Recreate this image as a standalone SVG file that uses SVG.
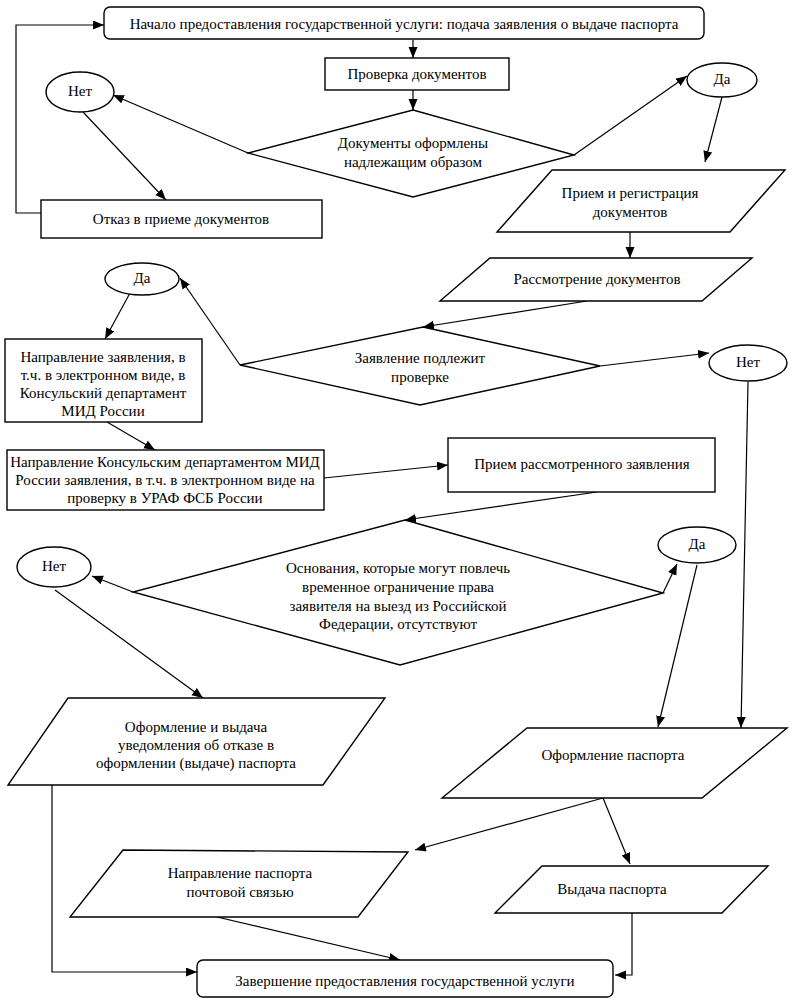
<svg xmlns="http://www.w3.org/2000/svg" width="803" height="1002" viewBox="0 0 803 1002" font-family="'Liberation Serif', 'DejaVu Serif', serif">
<style>
.s{fill:#fff;stroke:#000;stroke-width:1.4}
.c{fill:none;stroke:#000;stroke-width:1.2;marker-end:url(#a)}
text{font-family:'Liberation Serif','DejaVu Serif',serif;font-size:15px;fill:#000;text-anchor:middle;dominant-baseline:central}
</style>
<defs>
<marker id="a" markerUnits="userSpaceOnUse" markerWidth="12" markerHeight="10" refX="11" refY="4.5" orient="auto">
<path d="M0,0 L11,4.5 L0,9 z" fill="#000"/>
</marker>
</defs>
<rect width="803" height="1002" fill="#fff"/>
<g id="connectors">
<path class="c" d="M413,40 L413,58"/>
<path class="c" d="M413,90 L413,110"/>
<path class="c" d="M248,153 L113,95"/>
<path class="c" d="M83,112 L166,200"/>
<path class="c" d="M41,213 L16,213 L16,25 L104,25"/>
<path class="c" d="M574,155 L687,76"/>
<path class="c" d="M722,97 L705,162"/>
<path class="c" d="M630,232 L630,258"/>
<path class="c" d="M587,301 L423,327"/>
<path class="c" d="M240,365 L180,278"/>
<path class="c" d="M130,293 L105,339"/>
<path class="c" d="M107,422 L155,450"/>
<path class="c" d="M324,478 L448,465"/>
<path class="c" d="M600,366 L709,353"/>
<path class="c" d="M748,382 L741,728"/>
<path class="c" d="M597,492 L405,520"/>
<path class="c" d="M133,592 L92,576"/>
<path class="c" d="M55,590 L203,698"/>
<path class="c" d="M663,593 L677,564"/>
<path class="c" d="M697,565 L658,727"/>
<path class="c" d="M603,798 L415,850"/>
<path class="c" d="M603,798 L630,864"/>
<path class="c" d="M632,913 L632,975 L615,975"/>
<path class="c" d="M52,785 L52,972 L197,972"/>
<path class="c" d="M217,917 L400,960"/>
</g>
<g id="start">
<rect class="s" x="104" y="7" width="600" height="32" rx="6"/>
<text x="404" y="24">Начало предоставления государственной услуги: подача заявления о выдаче паспорта</text>
</g>
<g id="check">
<rect class="s" x="325" y="58" width="184" height="32"/>
<text x="417" y="74">Проверка документов</text>
</g>
<g id="decision1">
<path class="s" d="M413,110 L574,155 L413,197 L248,153 z"/>
<text x="413" y="143">Документы оформлены</text>
<text x="413" y="162">надлежащим образом</text>
</g>
<g id="no1">
<ellipse class="s" cx="80" cy="92" rx="34" ry="20"/>
<text x="80" y="91">Нет</text>
</g>
<g id="refuse">
<rect class="s" x="41" y="200" width="281" height="38"/>
<text x="181" y="219">Отказ в приеме документов</text>
</g>
<g id="yes1">
<ellipse class="s" cx="722" cy="80" rx="35" ry="17"/>
<text x="722" y="79">Да</text>
</g>
<g id="register">
<path class="s" d="M552,170 L785,170 L730,232 L497,232 z"/>
<text x="630" y="193">Прием и регистрация</text>
<text x="630" y="212">документов</text>
</g>
<g id="review">
<path class="s" d="M490,258 L752,258 L702,301 L440,301 z"/>
<text x="597" y="279">Рассмотрение документов</text>
</g>
<g id="decision2">
<path class="s" d="M423,327 L600,366 L420,405 L240,365 z"/>
<text x="420" y="358">Заявление подлежит</text>
<text x="420" y="377">проверке</text>
</g>
<g id="yes2">
<ellipse class="s" cx="142" cy="279" rx="37" ry="16"/>
<text x="142" y="278">Да</text>
</g>
<g id="send1">
<rect class="s" x="5" y="339" width="197" height="83"/>
<text x="103" y="357">Направление заявления, в</text>
<text x="103" y="375">т.ч. в электронном виде, в</text>
<text x="103" y="393">Консульский департамент</text>
<text x="103" y="411">МИД России</text>
</g>
<g id="send2">
<rect class="s" x="7" y="450" width="317" height="60"/>
<text x="165" y="462">Направление Консульским департаментом МИД</text>
<text x="165" y="480">России заявления, в т.ч. в электронном виде на</text>
<text x="165" y="498">проверку в УРАФ ФСБ России</text>
</g>
<g id="no2">
<ellipse class="s" cx="748" cy="363" rx="39" ry="18"/>
<text x="748" y="362">Нет</text>
</g>
<g id="accept">
<rect class="s" x="448" y="438" width="267" height="54"/>
<text x="582" y="464">Прием рассмотренного заявления</text>
</g>
<g id="decision3">
<path class="s" d="M405,520 L663,593 L400,665 L133,592 z"/>
<text x="398" y="568">Основания, которые могут повлечь</text>
<text x="398" y="587">временное ограничение права</text>
<text x="398" y="606">заявителя на выезд из Российской</text>
<text x="398" y="624">Федерации, отсутствуют</text>
</g>
<g id="no3">
<ellipse class="s" cx="54" cy="567" rx="37" ry="20"/>
<text x="54" y="566">Нет</text>
</g>
<g id="yes3">
<ellipse class="s" cx="697" cy="545" rx="39" ry="18"/>
<text x="697" y="544">Да</text>
</g>
<g id="notice">
<path class="s" d="M68,698 L385,698 L323,785 L8,785 z"/>
<text x="196" y="727">Оформление и выдача</text>
<text x="196" y="745">уведомления об отказе в</text>
<text x="196" y="763">оформлении (выдаче) паспорта</text>
</g>
<g id="issue">
<path class="s" d="M527,728 L787,728 L702,798 L442,798 z"/>
<text x="613" y="755">Оформление паспорта</text>
</g>
<g id="mail">
<path class="s" d="M123,850 L408,852 L358,917 L70,917 z"/>
<text x="240" y="873">Направление паспорта</text>
<text x="240" y="892">почтовой связью</text>
</g>
<g id="handout">
<path class="s" d="M542,866 L768,866 L722,913 L495,913 z"/>
<text x="612" y="889">Выдача паспорта</text>
</g>
<g id="end">
<rect class="s" x="197" y="960" width="416" height="37" rx="6"/>
<text x="405" y="981">Завершение предоставления государственной услуги</text>
</g>
</svg>
